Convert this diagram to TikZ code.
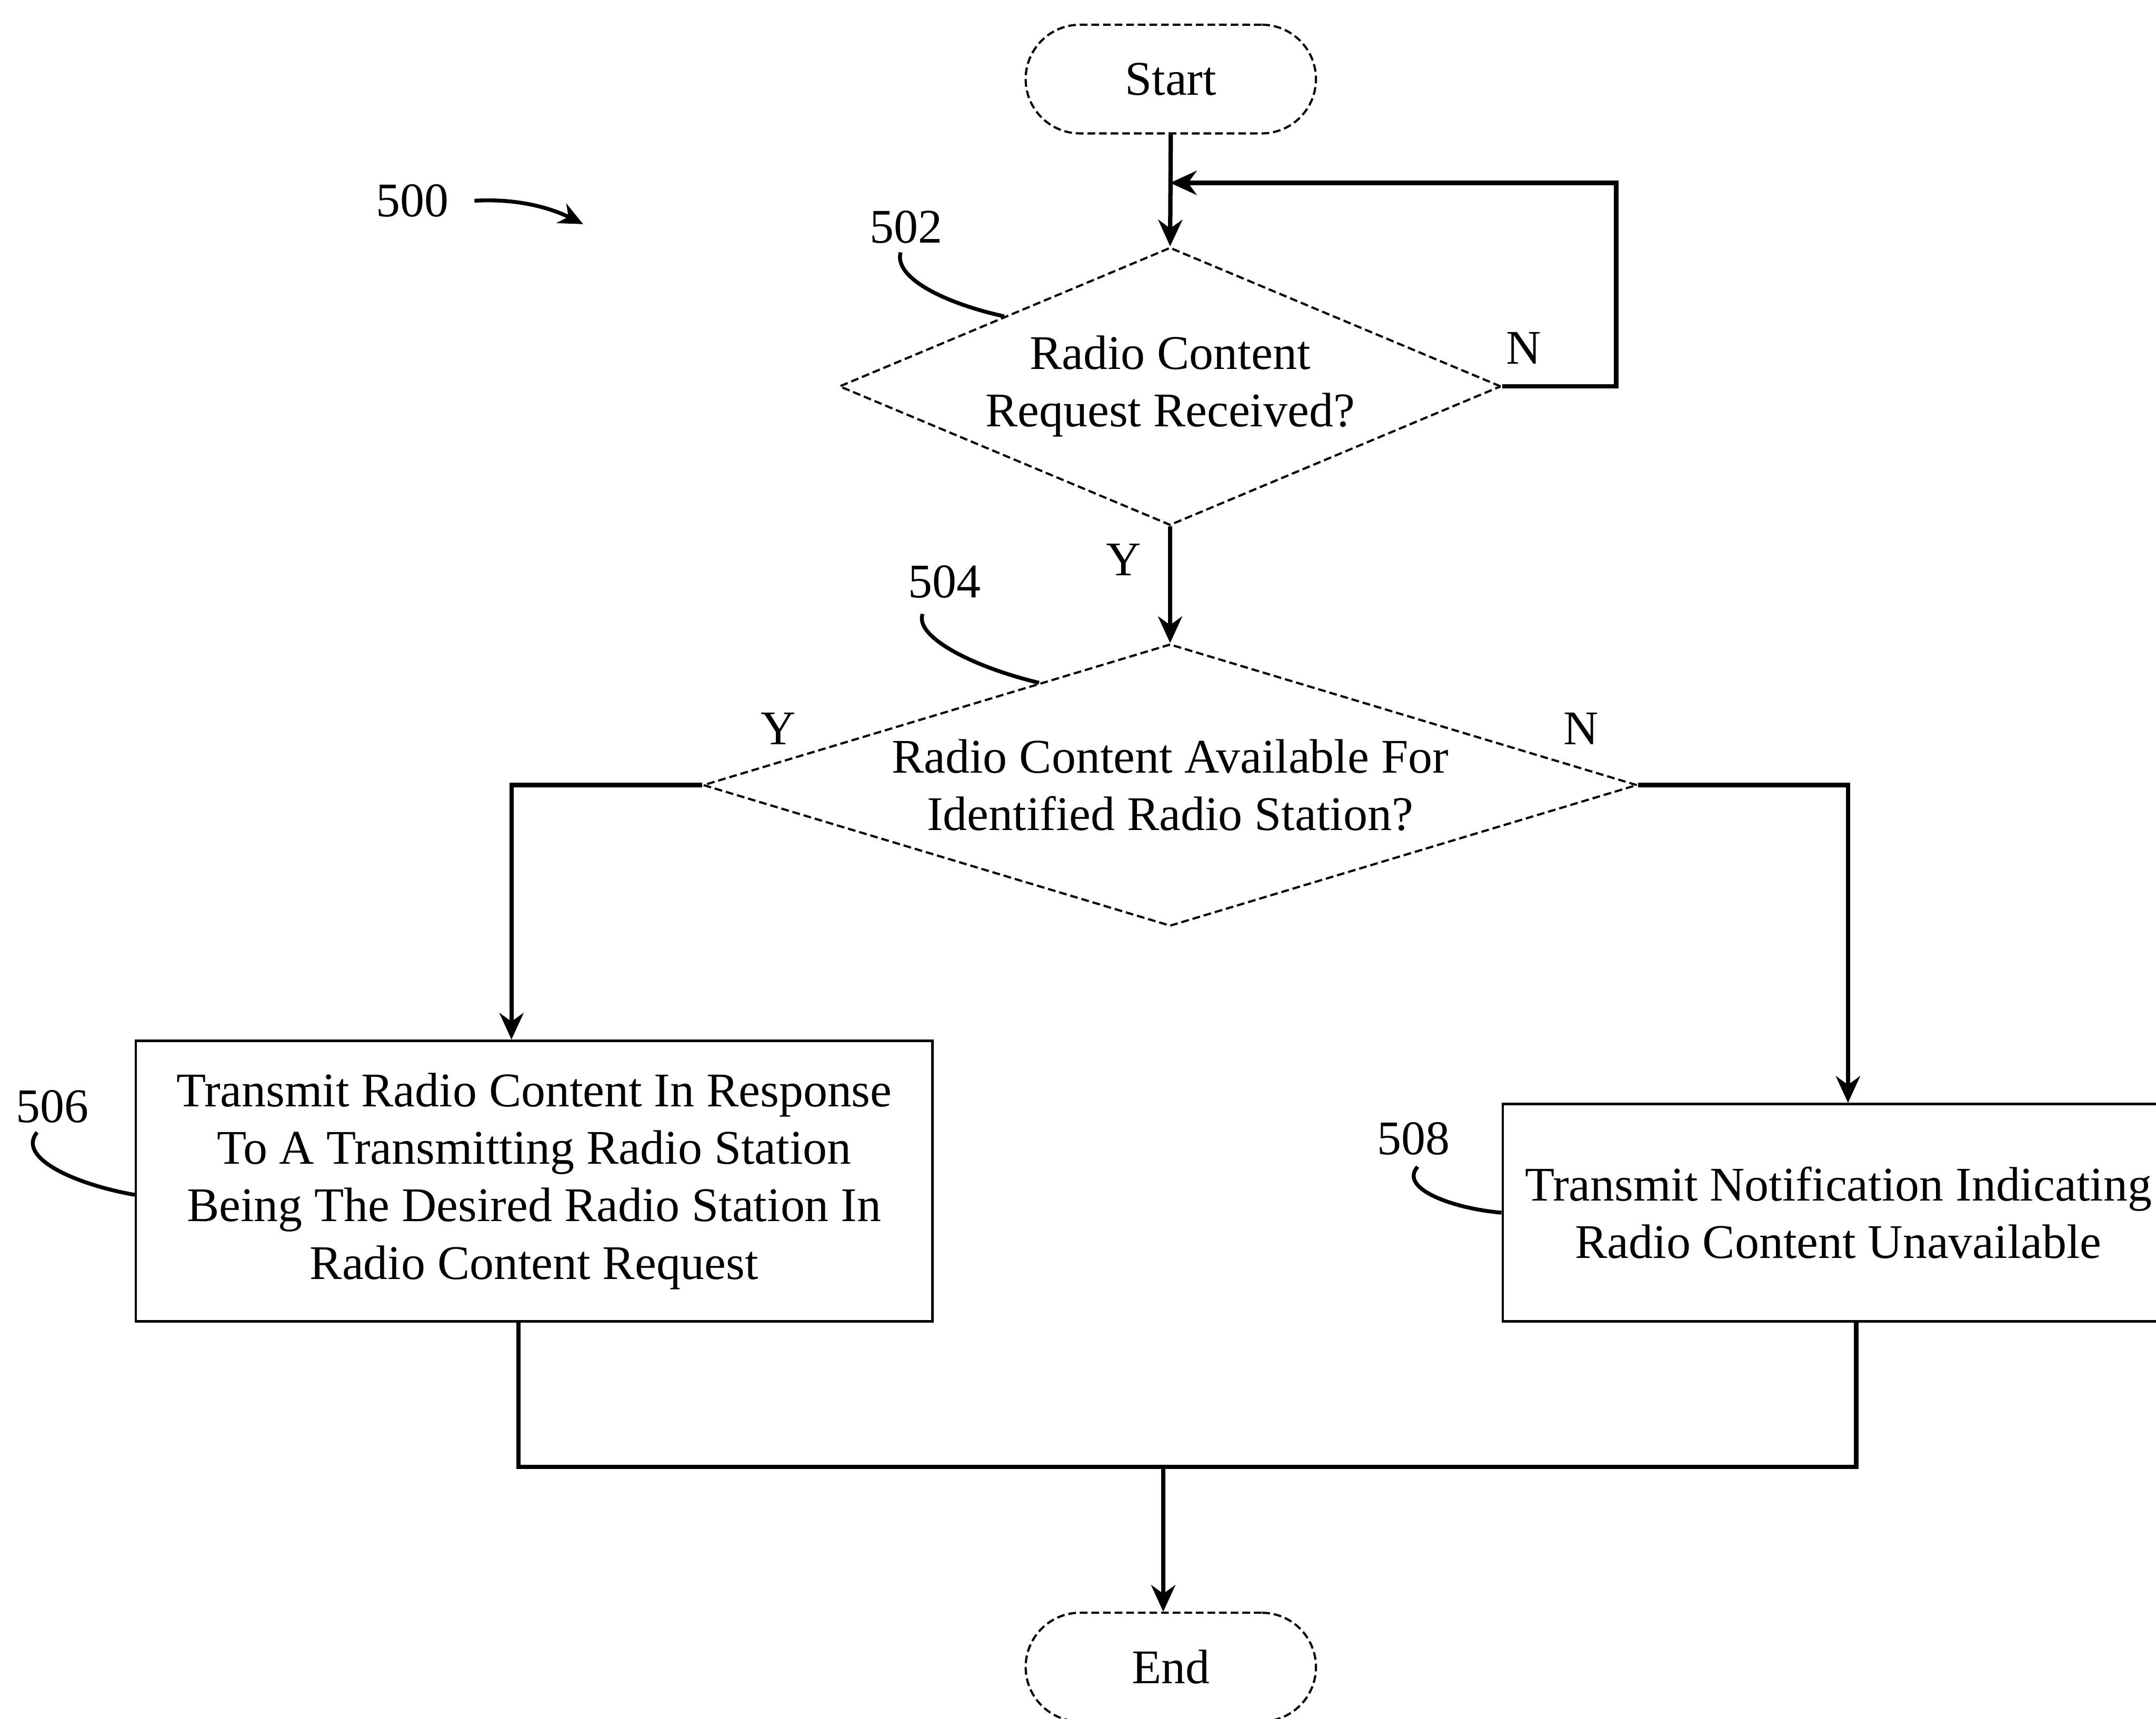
\documentclass[tikz,border=0pt]{standalone}
\usepackage{fontspec}
\setmainfont{Liberation Serif}
\usetikzlibrary{shapes.geometric,arrows.meta,calc}
\begin{document}
\begin{tikzpicture}[x=0.01cm,y=-0.01cm,
  every node/.style={font=\fontsize{10}{11.9}\selectfont},
  outl/.style={draw, line width=0.45pt, dash pattern=on 1.6pt off 0.8pt},
  term/.style={outl, rounded corners=3.95mm, minimum width=2.11cm, minimum height=0.79cm, inner sep=0},
  decision/.style={outl, diamond, inner sep=0, align=center},
  procbox/.style={draw, line width=0.5pt, inner sep=0, align=center},
  conn/.style={line width=0.9pt},
  flow/.style={conn, -{Stealth[length=5.5pt,width=5pt]}},
  leader/.style={line width=0.8pt},
  ref/.style={inner sep=0}]
\useasboundingbox (0,0) rectangle (1568,1250);

% flow nodes
\node[term] (start) at (851.5,57.5) {Start};
\node[decision, aspect=2.38, minimum width=4.81cm, minimum height=2.02cm] (d502) at (851,281)
  {Radio Content\\Request Received?};
\node[decision, aspect=3.31, minimum width=6.79cm, minimum height=2.05cm] (d504) at (851,571)
  {Radio Content Available For\\Identified Radio Station?};
\node[procbox, minimum width=5.79cm, minimum height=2.04cm] (b506) at (388.5,859)
  {Transmit Radio Content In Response\\To A Transmitting Radio Station\\Being The Desired Radio Station In\\Radio Content Request};
\node[procbox, minimum width=4.88cm, minimum height=1.58cm] (b508) at (1337,882)
  {Transmit Notification Indicating\\Radio Content Unavailable};
\node[term] (end) at (851.5,1212.5) {End};

% reference numerals
\node[ref] (l500) at (300,146) {500};
\node[ref] (l502) at (659,165) {502};
\node[ref] (l504) at (687,423) {504};
\node[ref] (l506) at (38,805) {506};
\node[ref] (l508) at (1028,828) {508};

% branch labels
\node[ref] (n502) at (1108,253) {N};
\node[ref] (y502) at (817,407) {Y};
\node[ref] (y504) at (566,530) {Y};
\node[ref] (n504) at (1150,530) {N};

% connectors
\coordinate (loopin) at (851,133);
\draw[flow] (start.south) -- (d502.north);
\draw[flow] (d502.east) -- ++(83,0) |- (loopin);
\draw[flow] (d502.south) -- (d504.north);
\draw[flow] (d504.west) -| ([xshift=-0.165cm]b506.north);
\draw[flow] (d504.east) -| ([xshift=0.07cm]b508.north);
\coordinate (merge) at (846,1067);
\draw[conn] ([xshift=-0.115cm]b506.south) |- (merge) -| ([xshift=0.13cm]b508.south);
\draw[flow] (merge) -- (merge |- end.north);

% numeral leaders
\draw[leader, -{Stealth[length=5pt,width=4.5pt]}] ($(l500.east)+(18,0)$)
  .. controls +(35,-2) and +(-20,-10) .. ($(l500.east)+(97,17)$);
\draw[leader] ($(l502.south)+(-4,6)$)
  .. controls +(-5,18) and +(-45,-10) .. ($(d502.north)!0.5!(d502.west)$);
\draw[leader] ($(l504.south)+(-16,11)$)
  .. controls +(-6,16) and +(-50,-12) .. ($(d504.north)!0.28!(d504.west)$);
\draw[leader] ($(l506.south)+(-11,6)$)
  .. controls +(-15,18) and +(-45,-8) .. ([yshift=-0.1cm]b506.west);
\draw[leader] ($(l508.south)+(3,8)$)
  .. controls +(-14,16) and +(-35,-3) .. (b508.west);
\end{tikzpicture}
\end{document}
